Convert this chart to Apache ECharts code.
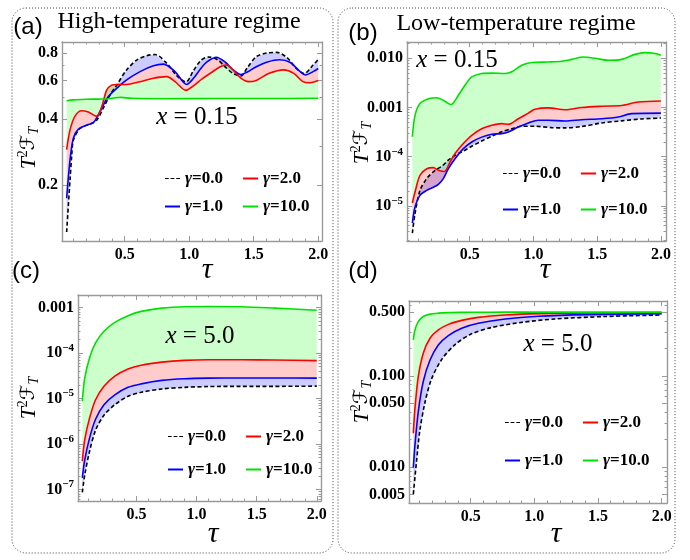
<!DOCTYPE html>
<html><head><meta charset="utf-8">
<script src="https://cdn.jsdelivr.net/npm/echarts@6/dist/echarts.min.js"></script>
<style>html,body{margin:0;padding:0;background:#fff}#c{width:690px;height:560px}</style>
</head><body><div id="c"></div><script>
// ---------------- data ----------------
const seriesNames = ['γ=0.0', 'γ=1.0', 'γ=2.0', 'γ=10.0'];
const xTicks = [0.5, 1.0, 1.5, 2.0];
const yTicksA = [0.2, 0.4, 0.6, 0.8];
const yTicksB = [1e-5, 1e-4, 0.001, 0.01];
const yTicksC = [1e-7, 1e-6, 1e-5, 1e-4, 0.001];
const yTicksD = [0.005, 0.01, 0.05, 0.1, 0.5];

// (a) high temperature, x = 0.15
const tauA0 = [0.05,0.076,0.089,0.102,0.153,0.231,0.283,0.334,0.386,0.438,0.515,0.593,0.671,0.735,0.826,0.903,0.975,1.03,1.09,1.15,1.22,1.28,1.34,1.40,1.45,1.52,1.60,1.68,1.76,1.83,1.89,1.96,2.0];
const valA0 = [0.122,0.21,0.27,0.32,0.362,0.379,0.395,0.448,0.514,0.571,0.67,0.743,0.778,0.787,0.718,0.63,0.59,0.66,0.74,0.767,0.745,0.69,0.645,0.628,0.685,0.77,0.80,0.805,0.76,0.68,0.645,0.705,0.749];
const tauA1 = [0.05,0.076,0.102,0.14,0.205,0.257,0.295,0.334,0.373,0.438,0.515,0.619,0.722,0.80,0.89,0.98,1.03,1.09,1.14,1.21,1.28,1.34,1.40,1.45,1.52,1.60,1.70,1.78,1.86,1.90,1.96,2.0];
const valA1 = [0.174,0.26,0.327,0.359,0.375,0.385,0.417,0.463,0.506,0.552,0.603,0.658,0.70,0.712,0.658,0.575,0.61,0.68,0.73,0.765,0.726,0.67,0.638,0.655,0.693,0.726,0.745,0.726,0.658,0.635,0.658,0.68];
const tauA2 = [0.05,0.076,0.115,0.167,0.218,0.283,0.322,0.36,0.399,0.438,0.515,0.619,0.722,0.826,0.89,0.975,1.03,1.10,1.17,1.24,1.29,1.33,1.40,1.46,1.52,1.62,1.73,1.81,1.88,1.93,2.0];
const valA2 = [0.29,0.356,0.412,0.436,0.43,0.412,0.455,0.542,0.571,0.575,0.575,0.592,0.614,0.624,0.592,0.54,0.565,0.61,0.65,0.693,0.705,0.68,0.614,0.592,0.60,0.646,0.67,0.646,0.592,0.585,0.60];
const tauA3 = [0.05,0.1,0.2,0.3,0.38,0.43,0.47,0.55,0.8,1.2,1.6,2.0];
const valA3 = [0.484,0.489,0.492,0.493,0.495,0.5,0.502,0.497,0.495,0.496,0.496,0.497];

// (b) low temperature, x = 0.15
const tauB0 = [0.05,0.071,0.11,0.163,0.228,0.281,0.332,0.385,0.45,0.516,0.594,0.673,0.751,0.83,0.908,1.012,1.143,1.248,1.379,1.536,1.692,1.849,2.0];
const valB0 = [2.8e-6,7.0e-6,2.07e-5,3.6e-5,5.3e-5,6.4e-5,8.5e-5,1.07e-4,1.3e-4,1.63e-4,2.08e-4,2.6e-4,3.2e-4,3.7e-4,4.15e-4,4.15e-4,3.9e-4,3.85e-4,4.1e-4,4.85e-4,5.35e-4,5.85e-4,6.1e-4];
const tauB1 = [0.05,0.071,0.11,0.163,0.215,0.254,0.293,0.332,0.385,0.45,0.516,0.594,0.673,0.751,0.803,0.881,0.96,1.038,1.117,1.248,1.379,1.536,1.666,1.771,2.0];
const valB1 = [4.5e-6,9.5e-6,1.64e-5,2.07e-5,2.4e-5,2.75e-5,3.6e-5,5.7e-5,9.1e-5,1.46e-4,1.99e-4,2.5e-4,2.85e-4,2.95e-4,3.18e-4,4.0e-4,4.85e-4,5.5e-4,5.5e-4,5.3e-4,5.65e-4,5.9e-4,6.4e-4,7.5e-4,7.7e-4];
const tauB2 = [0.05,0.071,0.11,0.163,0.215,0.254,0.301,0.346,0.385,0.45,0.516,0.594,0.673,0.751,0.803,0.881,0.96,1.012,1.117,1.248,1.379,1.536,1.692,1.823,2.0];
const valB2 = [1.15e-5,1.92e-5,4.2e-5,5.7e-5,6.0e-5,5.3e-5,5.0e-5,7.8e-5,1.16e-4,1.85e-4,2.72e-4,3.7e-4,4.35e-4,4.7e-4,4.55e-4,5.9e-4,7.7e-4,9.2e-4,9.8e-4,9.0e-4,1.0e-3,1.06e-3,1.1e-3,1.29e-3,1.35e-3];
const tauB3 = [0.05,0.071,0.11,0.176,0.241,0.293,0.353,0.411,0.463,0.516,0.594,0.673,0.777,0.83,0.908,0.986,1.117,1.222,1.30,1.391,1.483,1.587,1.692,1.797,1.875,1.954,2.0];
const valB3 = [2.55e-4,6.9e-4,1.2e-3,1.5e-3,1.58e-3,1.4e-3,1.15e-3,1.77e-3,2.83e-3,4.17e-3,4.9e-3,5.0e-3,4.9e-3,5.3e-3,7.2e-3,8.2e-3,8.4e-3,8.7e-3,9.5e-3,1.06e-2,1.0e-2,9.1e-3,9.5e-3,1.2e-2,1.3e-2,1.25e-2,1.15e-2];

// (c) high temperature, x = 5.0
const tauC = [0.05,0.07,0.11,0.16,0.23,0.32,0.43,0.54,0.71,0.9,1.1,1.37,1.65,2.0];
const valC0 = [8.7e-8,2.1e-7,6.9e-7,2.0e-6,4.3e-6,7.3e-6,1.12e-5,1.37e-5,1.62e-5,1.76e-5,1.83e-5,1.85e-5,1.85e-5,1.87e-5];
const valC1 = [1.8e-7,4.5e-7,1.35e-6,3.5e-6,7.3e-6,1.2e-5,1.76e-5,2.1e-5,2.5e-5,2.72e-5,2.8e-5,2.83e-5,2.83e-5,2.8e-5];
const valC2 = [4.2e-7,1.25e-6,3.7e-6,9.4e-6,1.86e-5,3.1e-5,4.45e-5,5.4e-5,6.3e-5,6.9e-5,7.1e-5,7.1e-5,7.0e-5,6.8e-5];
const valC3 = [8.7e-6,2.8e-5,7.8e-5,1.66e-4,3.0e-4,4.7e-4,6.6e-4,8.2e-4,9.7e-4,1.04e-3,1.05e-3,1.04e-3,9.7e-4,8.7e-4];

// (d) low temperature, x = 5.0
const tauD0 = [0.05,0.075,0.1,0.14,0.19,0.27,0.375,0.5,0.66,0.9,1.16,1.55,2.0];
const valD0 = [0.00506,0.0115,0.0245,0.05,0.09,0.149,0.218,0.285,0.337,0.385,0.419,0.446,0.464];
const tauD = [0.05,0.063,0.089,0.128,0.181,0.246,0.325,0.43,0.56,0.77,1.03,1.42,2.0];
const valD1 = [0.0099,0.0175,0.0406,0.0865,0.149,0.218,0.276,0.332,0.376,0.419,0.449,0.468,0.48];
const valD2 = [0.0235,0.0442,0.098,0.177,0.258,0.318,0.366,0.405,0.437,0.464,0.48,0.488,0.492];
const valD3 = [0.247,0.318,0.393,0.446,0.474,0.486,0.492,0.495,0.497,0.498,0.498,0.498,0.498];

// ---------------- helpers ----------------
const FRAME = '#9a9a9a';
const SERIF = "'Liberation Serif','DejaVu Serif',serif";
const lineColors = ['#000000', '#0000ff', '#ff0000', '#00e000'];
const fillColors = ['rgba(0,0,255,0.2)', 'rgba(255,0,0,0.2)', 'rgba(0,255,0,0.2)'];
const DASH_ICON = 'path://M0 0H4V1H0Z M6 0H10V1H6Z M12 0H16V1H12Z';

function zip(t, v) { return t.map((x, i) => [x, v[i]]); }
function xMinorTicks() {
  const out = [];
  for (let k = 1; k <= 20; k++) { if (k % 5 !== 0) out.push(k / 10); }
  return out;
}
function logMinorTicks(lo, hi) {
  const out = [];
  for (let e = Math.floor(Math.log10(lo)); e <= Math.ceil(Math.log10(hi)); e++) {
    for (let k = 2; k <= 9; k++) {
      const v = k * Math.pow(10, e);
      if (v > lo && v < hi) out.push(v);
    }
  }
  return out;
}
function supFmt(v) {
  if (v >= 0.001) return v.toFixed(3);
  return '{b|10}{s|−' + Math.round(-Math.log10(v)) + '}';
}

const panels = [
  { grid: { left: 62, top: 42, width: 260, height: 199 }, x: [0.014, 2.029], y: [0.111, 0.898],
    yMaj: yTicksA, yMin: [0.3, 0.5, 0.7], fmt: v => v.toFixed(1),
    curves: [[tauA0, valA0], [tauA1, valA1], [tauA2, valA2], [tauA3, valA3]] },
  { grid: { left: 407, top: 42, width: 259, height: 199 }, x: [0.008, 2.04], y: [1.94e-6, 0.0214],
    yMaj: yTicksB, yMin: logMinorTicks(1.94e-6, 0.0214), fmt: supFmt,
    curves: [[tauB0, valB0], [tauB1, valB1], [tauB2, valB2], [tauB3, valB3]] },
  { grid: { left: 78, top: 295, width: 243, height: 206 }, x: [0.014, 2.035], y: [5.6e-8, 1.88e-3],
    yMaj: yTicksC, yMin: logMinorTicks(5.6e-8, 1.88e-3), fmt: supFmt,
    curves: [[tauC, valC0], [tauC, valC1], [tauC, valC2], [tauC, valC3]] },
  { grid: { left: 409, top: 301, width: 258, height: 202 }, x: [0.016, 2.042], y: [0.00404, 0.66],
    yMaj: yTicksD, yMin: logMinorTicks(0.00404, 0.66), fmt: v => v.toFixed(3),
    curves: [[tauD0, valD0], [tauD, valD1], [tauD, valD2], [tauD, valD3]] }
];

const labelRich = {
  b: { fontFamily: SERIF, fontWeight: 'bold', fontSize: 16, color: '#000' },
  s: { fontFamily: SERIF, fontWeight: 'bold', fontSize: 11, color: '#000', padding: [0, 0, 10, 0] }
};

function xAx(gi, p, pos, major) {
  return {
    type: 'value', gridIndex: gi, min: p.x[0], max: p.x[1], position: pos,
    axisLine: { show: major, onZero: false, lineStyle: { color: FRAME, width: 1.4 } },
    axisTick: { show: true, inside: true, length: major ? 5 : 2.5, customValues: major ? xTicks : xMinorTicks(),
      lineStyle: { color: FRAME, width: 1 } },
    axisLabel: { show: major && pos === 'bottom', customValues: xTicks, formatter: v => v.toFixed(1),
      fontFamily: SERIF, fontWeight: 'bold', fontSize: 16, color: '#000', margin: 6 },
    splitLine: { show: false }
  };
}
function yAx(gi, p, pos, major) {
  return {
    type: 'log', logBase: 10, gridIndex: gi, min: p.y[0], max: p.y[1], position: pos,
    axisLine: { show: major, onZero: false, lineStyle: { color: FRAME, width: 1.4 } },
    axisTick: { show: true, inside: true, length: major ? 5 : 2.5, customValues: major ? p.yMaj : p.yMin,
      lineStyle: { color: FRAME, width: 1 } },
    axisLabel: { show: major && pos === 'left', customValues: p.yMaj, formatter: p.fmt,
      fontFamily: SERIF, fontWeight: 'bold', fontSize: 16, color: '#000', margin: 4, rich: labelRich },
    splitLine: { show: false }
  };
}

const grids = [], xAxes = [], yAxes = [], series = [];
panels.forEach((p, pi) => {
  grids.push(Object.assign({ outerBoundsMode: 'none', containLabel: false, show: false }, p.grid));
  xAxes.push(xAx(pi, p, 'bottom', true), xAx(pi, p, 'bottom', false), xAx(pi, p, 'top', true), xAx(pi, p, 'top', false));
  yAxes.push(yAx(pi, p, 'left', true), yAx(pi, p, 'left', false), yAx(pi, p, 'right', true), yAx(pi, p, 'right', false));
  const ax = pi * 4;
  for (let k = 0; k < 3; k++) {
    const lo = p.curves[k], hi = p.curves[k + 1];
    series.push({
      type: 'custom', xAxisIndex: ax, yAxisIndex: ax, silent: true, z: 1, clip: true,
      data: [[lo[0][0], lo[1][0]]],
      renderItem: (params, api) => {
        const pts = [];
        for (let i = 0; i < lo[0].length; i++) pts.push(api.coord([lo[0][i], lo[1][i]]));
        for (let i = hi[0].length - 1; i >= 0; i--) pts.push(api.coord([hi[0][i], hi[1][i]]));
        return { type: 'polygon', shape: { points: pts }, style: { fill: fillColors[k], stroke: null } };
      }
    });
  }
  p.curves.forEach((c, k) => {
    series.push({
      type: 'line', name: seriesNames[k], xAxisIndex: ax, yAxisIndex: ax, z: 3,
      data: zip(c[0], c[1]), smooth: 0.3, symbol: 'none', showSymbol: false, clip: true,
      lineStyle: { color: lineColors[k], width: 1.6, type: k === 0 ? [4, 2.5] : 'solid' },
      itemStyle: { color: lineColors[k] }
    });
  });
});

// legend rows: [left of column 1, row centre y] ; column 2 follows by itemGap
const legendPos = [
  [[165, 180], [165, 208]],
  [[503, 175], [503, 211]],
  [[168, 438], [168, 471]],
  [[505, 424], [505, 462]]
];
const legends = [];
function legItem(k) { return { name: seriesNames[k], icon: k === 0 ? DASH_ICON : 'rect' }; }
legendPos.forEach(lp => {
  const base = {
    orient: 'horizontal', padding: 0, itemGap: 20, itemWidth: 15, itemHeight: 2, selectedMode: false,
    textStyle: { fontFamily: SERIF, fontWeight: 'bold', fontSize: 17, color: '#000',
      rich: { g: { fontFamily: SERIF, fontWeight: 'bold', fontStyle: 'italic', fontSize: 17 },
              n: { fontFamily: SERIF, fontWeight: 'bold', fontSize: 17 } } },
    formatter: name => '{g|γ}{n|' + name.slice(1) + '}'
  };
  legends.push(Object.assign({}, base, { left: lp[0][0], top: lp[0][1] - 10, data: [legItem(0), legItem(2)] }));
  legends.push(Object.assign({}, base, { left: lp[1][0], top: lp[1][1] - 10, data: [legItem(1), legItem(3)] }));
});

function txt(x, y, text, font, extra) {
  return Object.assign({ type: 'text', x: x, y: y, z: 10,
    style: { text: text, font: font, fill: '#000', align: 'center', verticalAlign: 'middle', textAlign: 'center', textVerticalAlign: 'middle' } }, extra || {});
}
const mathRich = {
  i: { fontFamily: SERIF, fontStyle: 'italic', fontSize: 25, fill: '#000' },
  r: { fontFamily: SERIF, fontSize: 25, fill: '#000' }
};
const ylabRich = {
  i: { fontFamily: SERIF, fontStyle: 'italic', fontSize: 22, fill: '#000' },
  sup: { fontFamily: SERIF, fontSize: 14, fill: '#000', padding: [0, 0, 12, 0] },
  f: { fontFamily: "'DejaVu Serif','DejaVu Sans',serif", fontStyle: 'italic', fontSize: 20, fill: '#000' },
  sub: { fontFamily: SERIF, fontStyle: 'italic', fontSize: 14, fill: '#000', padding: [10, 0, 0, 0] }
};
function mathText(x, y, s) {
  const o = txt(x, y, '{i|x}{r| = ' + s + '}', '25px ' + SERIF);
  o.style.rich = mathRich;
  return o;
}
function yLab(x, y) {
  const o = txt(x, y, '{i|T}{sup|2}{f|ℱ}{sub|T}', '22px ' + SERIF, { rotation: Math.PI / 2 });
  o.style.rich = ylabRich;
  return o;
}
const graphics = [
  { type: 'rect', z: 0, shape: { x: 12, y: 8, width: 321, height: 545, r: 14 },
    style: { fill: 'none', stroke: '#444', lineWidth: 1, lineDash: [1, 2] } },
  { type: 'rect', z: 0, shape: { x: 338, y: 8, width: 337, height: 545, r: 14 },
    style: { fill: 'none', stroke: '#444', lineWidth: 1, lineDash: [1, 2] } },
  txt(179, 22, 'High-temperature regime', '24px ' + SERIF),
  txt(516, 24, 'Low-temperature regime', '24px ' + SERIF),
  txt(28, 27, '(a)', "24px 'Liberation Sans', Arial, sans-serif"),
  txt(363, 33, '(b)', "24px 'Liberation Sans', Arial, sans-serif"),
  txt(26, 271, '(c)', "24px 'Liberation Sans', Arial, sans-serif"),
  txt(363, 271, '(d)', "24px 'Liberation Sans', Arial, sans-serif"),
  txt(207, 270, 'τ', 'italic 30px ' + SERIF),
  txt(545, 270, 'τ', 'italic 30px ' + SERIF),
  txt(213, 534, 'τ', 'italic 30px ' + SERIF),
  txt(556, 534, 'τ', 'italic 30px ' + SERIF),
  yLab(29, 148), yLab(362, 143), yLab(29, 398), yLab(362, 402),
  mathText(197, 117, '0.15'), mathText(457, 60, '0.15'), mathText(200, 336, '5.0'), mathText(558, 344, '5.0')
];

const chart = echarts.init(document.getElementById('c'), null, { renderer: 'canvas' });
chart.setOption({
  backgroundColor: '#ffffff',
  animation: false,
  grid: grids, xAxis: xAxes, yAxis: yAxes,
  legend: legends,
  series: series,
  graphic: graphics
});
</script></body></html>
